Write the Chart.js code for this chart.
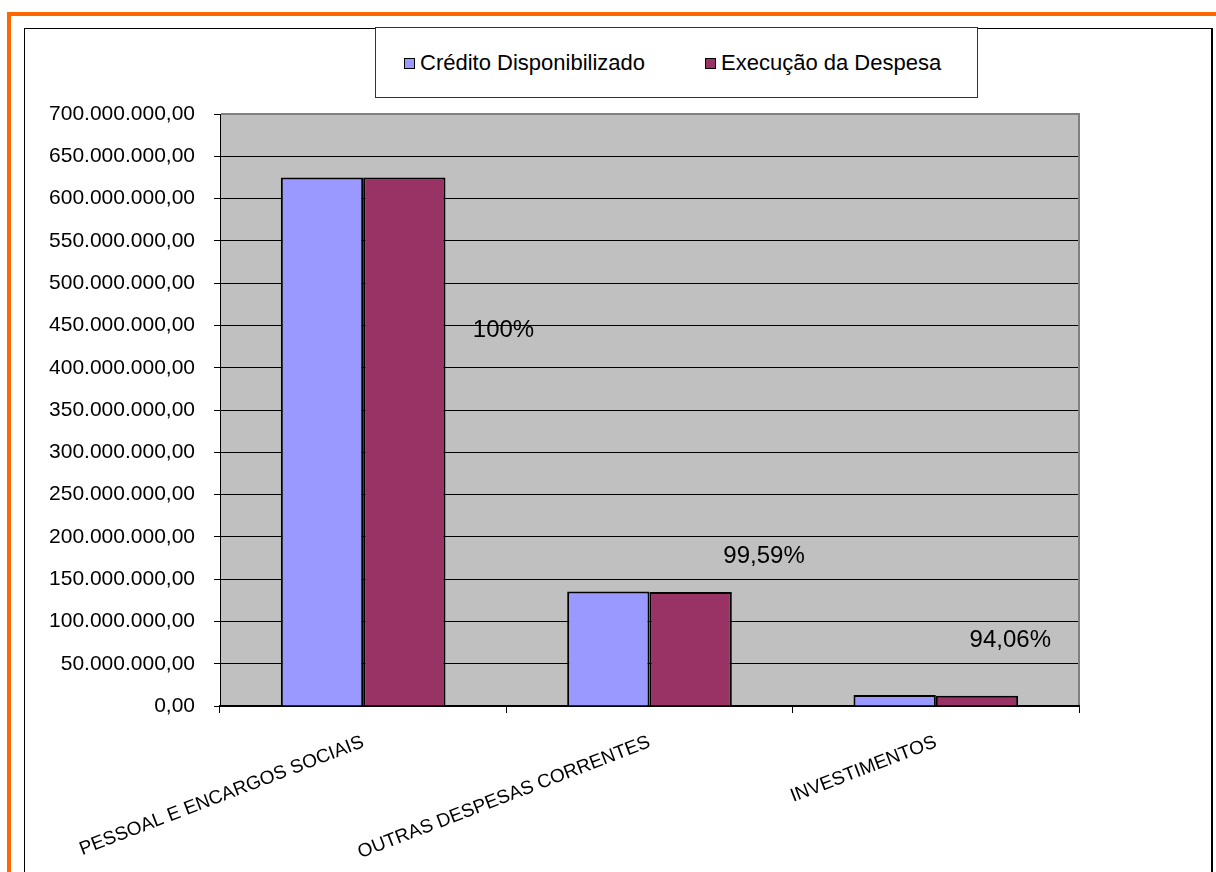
<!DOCTYPE html>
<html lang="pt-BR">
<head>
<meta charset="utf-8">
<title>Crédito Disponibilizado x Execução da Despesa</title>
<script src="https://cdn.jsdelivr.net/npm/chart.js@4.4.1/dist/chart.umd.min.js"></script>
<style>
  html, body { margin: 0; padding: 0; background: #fff; }
  body { width: 1216px; height: 872px; position: relative; overflow: hidden;
         font-family: "Liberation Sans", Arial, sans-serif; }
  #frameTop { position: absolute; left: 7px; top: 12px; width: 1209px; height: 4px; background: #FF6600; }
  #frameLeft { position: absolute; left: 7px; top: 12px; width: 4px; height: 860px; background: #FF6600; }
  #panel { position: absolute; left: 24px; top: 28px; width: 1189px; height: 860px;
           border: 1px solid #000; border-right-width: 2px; box-sizing: border-box; }
  #chartWrap { position: absolute; left: 0; top: 0; width: 1216px; height: 872px; }
  #legend { position: absolute; left: 375px; top: 27px; width: 603px; height: 71px;
            border: 1px solid #333; box-sizing: border-box; background: #fff; }
  .item { position: absolute; top: 0; height: 70px; display: flex; align-items: center;
          font-size: 22px; color: #000; white-space: nowrap; }
  .swatch { width: 9px; height: 9px; border: 1.5px solid #000; margin-right: 5px; margin-top: 1px; }
</style>
</head>
<body>
<div id="frameTop"></div>
<div id="frameLeft"></div>
<div id="panel"></div>
<div id="chartWrap"><canvas id="chart" width="1216" height="872"></canvas></div>
<div id="legend"></div>
<script>
// Expense groups on the x axis
const categories = ['PESSOAL E ENCARGOS SOCIAIS', 'OUTRAS DESPESAS CORRENTES', 'INVESTIMENTOS'];

// Amounts in R$
const creditoDisponibilizado = [625000000, 135500000, 13000000];
const execucaoDespesa = [625000000, 134940000, 12230000];

// Execution rate for each group
const execucaoPercentual = ['100%', '99,59%', '94,06%'];

// Y axis range
const yMin = 0;
const yMax = 700000000;
const yStep = 50000000;

const seriesNames = ['Crédito Disponibilizado', 'Execução da Despesa'];
const seriesColors = ['#9999FF', '#993366'];

// Legend item offsets inside the legend box, in px
const legendItemLefts = [28, 329];

// Where each rate label sits: [fraction of a category step from its centre, value on the y axis]
const rateLabelAnchors = [[0.49, 444000000], [0.40, 177000000], [0.26, 78000000]];

const FONT = '"Liberation Sans", Arial, sans-serif';

function formatBR(v) {
  const fixed = Math.abs(v).toFixed(2);
  const [intPart, dec] = fixed.split('.');
  const grouped = intPart.replace(/\B(?=(\d{3})+(?!\d))/g, '.');
  return (v < 0 ? '-' : '') + grouped + ',' + dec;
}

// Grey plotting area with the grey frame on its top and right sides
const plotAreaPlugin = {
  id: 'plotArea',
  beforeDraw(chart) {
    const { ctx, chartArea: a } = chart;
    ctx.save();
    ctx.fillStyle = '#C0C0C0';
    ctx.fillRect(a.left, a.top, a.right - a.left, a.bottom - a.top);
    ctx.restore();
  },
  afterDraw(chart) {
    const { ctx, chartArea: a } = chart;
    ctx.save();
    ctx.strokeStyle = '#808080';
    ctx.lineWidth = 2;
    ctx.beginPath();
    ctx.moveTo(a.left + 1, a.top);
    ctx.lineTo(a.right, a.top);
    ctx.lineTo(a.right, a.bottom - 1);
    ctx.stroke();
    ctx.restore();
  }
};

// Execution-rate labels placed through the chart's scales
const rateLabelPlugin = {
  id: 'rateLabels',
  afterDatasetsDraw(chart) {
    const { ctx, scales: { x, y } } = chart;
    const step = x.getPixelForValue(1) - x.getPixelForValue(0);
    ctx.save();
    ctx.font = '24px ' + FONT;
    ctx.fillStyle = '#000';
    ctx.textAlign = 'center';
    ctx.textBaseline = 'middle';
    execucaoPercentual.forEach((txt, i) => {
      const [dx, v] = rateLabelAnchors[i];
      ctx.fillText(txt, x.getPixelForValue(i) + dx * step, y.getPixelForValue(v));
    });
    ctx.restore();
  }
};

const chart = new Chart(document.getElementById('chart'), {
  type: 'bar',
  data: {
    labels: categories,
    datasets: [
      { label: seriesNames[0], data: creditoDisponibilizado, backgroundColor: seriesColors[0],
        borderColor: '#000', borderWidth: 2 },
      { label: seriesNames[1], data: execucaoDespesa, backgroundColor: seriesColors[1],
        borderColor: '#000', borderWidth: 2 }
    ]
  },
  options: {
    responsive: false,
    animation: false,
    devicePixelRatio: 1,
    layout: { padding: { left: 0, top: 114, right: 137, bottom: 0 } },
    datasets: { bar: { barPercentage: 1, categoryPercentage: 0.575 } },
    plugins: { legend: { display: false }, tooltip: { enabled: false } },
    scales: {
      x: {
        afterFit(scale) { scale.height = 166; },
        grid: { display: true, drawOnChartArea: false, offset: true, color: '#000', tickLength: 7 },
        border: { display: true, color: '#000', width: 2 },
        ticks: { color: '#000', font: { family: FONT, size: 19 }, minRotation: 21, maxRotation: 21,
                 padding: 18, autoSkip: false }
      },
      y: {
        min: yMin, max: yMax,
        afterFit(scale) { scale.width = 220; },
        grid: { color: '#000', lineWidth: 1, tickLength: 6 },
        border: { display: true, color: '#000', width: 1 },
        ticks: { stepSize: yStep, color: '#000', font: { family: FONT, size: 21 }, padding: 19,
                 callback: (v) => formatBR(v) }
      }
    }
  },
  plugins: [plotAreaPlugin, rateLabelPlugin]
});

// Legend built from the datasets
const legendEl = document.getElementById('legend');
chart.data.datasets.forEach((ds, i) => {
  const item = document.createElement('div');
  item.className = 'item';
  item.style.left = legendItemLefts[i] + 'px';
  const sw = document.createElement('span');
  sw.className = 'swatch';
  sw.style.background = ds.backgroundColor;
  const label = document.createElement('span');
  label.textContent = ds.label;
  item.appendChild(sw);
  item.appendChild(label);
  legendEl.appendChild(item);
});
</script>
</body>
</html>
